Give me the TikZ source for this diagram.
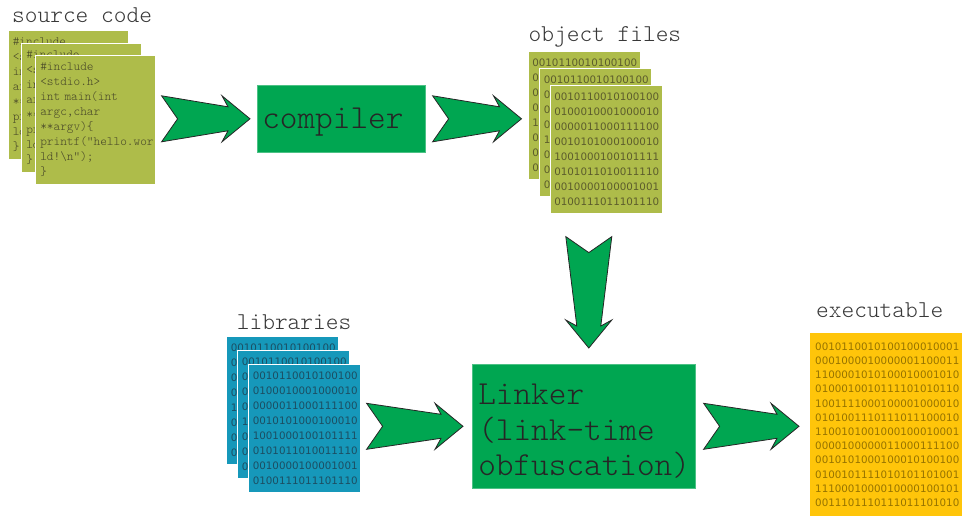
\documentclass[tikz,border=0pt]{standalone}
\usepackage{fontspec}
\setmonofont{lmmonolt10-regular.otf}
\newfontfamily\binfont{DejaVu Sans}
\usetikzlibrary{calc}

\definecolor{srcolive}{RGB}{174,188,74}
\definecolor{libteal}{RGB}{22,152,186}
\definecolor{boxgreen}{RGB}{0,166,81}
\definecolor{exeyellow}{RGB}{255,197,10}
\definecolor{codetext}{RGB}{72,72,40}
\definecolor{objtext}{RGB}{92,92,44}
\definecolor{libtext}{RGB}{28,78,98}
\definecolor{exetext}{RGB}{150,115,0}

\newcommand{\srccode}{\#include\\<stdio.h>\\int main(int\\argc,char\\{}**argv)\{\\printf("hello.wor\\ld!\textbackslash n");\\\}}
\newcommand{\objbits}{0010110010100100\\0100010001000010\\0000011000111100\\0010101000100010\\1001000100101111\\0101011010011110\\0010000100001001\\0100111011101110}

% notched block arrow from #1 to #2
\newcommand{\bigarrow}[2]{%
  \filldraw[bigarrow] let \p1=(#1), \p2=(#2), \n1={atan2(\y2-\y1,\x2-\x1)}, \n2={veclen(\x2-\x1,\y2-\y1)} in
    [shift={(\p1)}, rotate=\n1] (0pt,23pt) -- (16pt,0pt) -- (0pt,-23pt) -- (\n2-22pt,-12pt) -- (\n2-28pt,-23pt)
    -- (\n2+0pt,0pt) -- (\n2-28pt,23pt) -- (\n2-22pt,12pt) -- cycle;}

\tikzset{
  codebox/.style={anchor=north west, fill=srcolive, draw=white, line width=0.6pt, text=codetext,
    inner xsep=5pt, text width=110pt, minimum height=129pt, align=left,
    font=\ttfamily\fontsize{12.7}{15}\selectfont},
  binbox/.style={anchor=north west, draw=white, line width=0.6pt, inner xsep=4.5pt, text width=103pt,
    minimum height=128pt, align=left, font=\binfont\fontsize{10.3}{15}\selectfont},
  objbox/.style={binbox, fill=srcolive, text=objtext},
  libbox/.style={binbox, fill=libteal, text=libtext},
  toolbox/.style={anchor=north west, fill=boxgreen, draw=boxgreen!70!white, line width=0.6pt, text=black!85,
    align=left, font=\ttfamily\fontsize{33.6}{35.5}\selectfont},
  heading/.style={anchor=base west, inner sep=0pt, text=black!78, font=\ttfamily\fontsize{24.2}{24}\selectfont},
  bigarrow/.style={fill=boxgreen, draw=black!85, line width=0.8pt, line join=miter},
}

\begin{document}
\begin{tikzpicture}[x=1pt, y=-1pt]
    \clip (0,0) rectangle (962,515);

    % stacks of files
    \foreach \i/\x/\y in {1/7.5/30, 2/21/43, 3/35/55}
        \node[codebox] (src\i) at (\x,\y) {\srccode};
    \foreach \i/\x/\y in {1/527.5/51, 2/539/68, 3/549.5/85}
        \node[objbox] (obj\i) at (\x,\y) {\objbits};
    \foreach \i/\x/\y in {1/226/336, 2/237/350, 3/248/363.5}
        \node[libbox] (lib\i) at (\x,\y) {\objbits};

    \node[anchor=north west, fill=exeyellow, text=exetext, inner xsep=5pt, text width=170pt,
        minimum height=183pt, align=left, font=\binfont\fontsize{10.3}{14.2}\selectfont] (exe) at (810,333)
        {0010110010100100010001\\0001000010000001100011\\1100001010100010001010\\0100010010111101010110\\
         1001111000100001000010\\0101001110111011100010\\1100101001000100010001\\0000100000011000111100\\
         0010101000100010100100\\0100101111010101101001\\1110001000010000100101\\0011101110111011101010};

    % tools
    \node[toolbox, inner xsep=5pt, text width=158pt, minimum height=67pt] (compiler) at (257,85)
        {\rule{0pt}{28pt}compiler};
    \node[toolbox, inner xsep=6pt, text width=211pt, minimum height=124pt] (linker) at (472,364)
        {\rule{0pt}{31pt}Linker\\(link-time\\obfuscation)};

    \node[heading] (srclabel) at ($(src1.north west)+(4.5,-7.3)$) {source code};
    \node[heading] (objlabel) at ($(obj1.north west)+(1,-9.3)$) {object files};
    \node[heading] (liblabel) at ($(lib1.north west)+(10.7,-6.4)$) {libraries};
    \node[heading] (exelabel) at ($(exe.north west)+(6,-15.3)$) {executable};

    % arrows
    \coordinate (a1s) at ($(src3.east |- compiler.west)+(6,0)$);
    \coordinate (a1e) at ($(compiler.west)+(-7,0)$);
    \coordinate (a2s) at ($(compiler.east)+(7,0)$);
    \coordinate (a2e) at ($(compiler.east -| obj1.west)+(-6,0)$);
    \coordinate (a3s) at ($(obj3.south -| linker.north)+(5,23)$);
    \coordinate (a3e) at ($(linker.north)+(5,-16)$);
    \coordinate (a4s) at ($(lib3.east |- linker.west)+(6,0)$);
    \coordinate (a4e) at ($(linker.west)+(-9,0)$);
    \coordinate (a5s) at ($(linker.east)+(8,0)$);
    \coordinate (a5e) at ($(exe.west |- linker.east)+(-11,0)$);
    \bigarrow{a1s}{a1e}
    \bigarrow{a2s}{a2e}
    \bigarrow{a3s}{a3e}
    \bigarrow{a4s}{a4e}
    \bigarrow{a5s}{a5e}
\end{tikzpicture}
\end{document}
